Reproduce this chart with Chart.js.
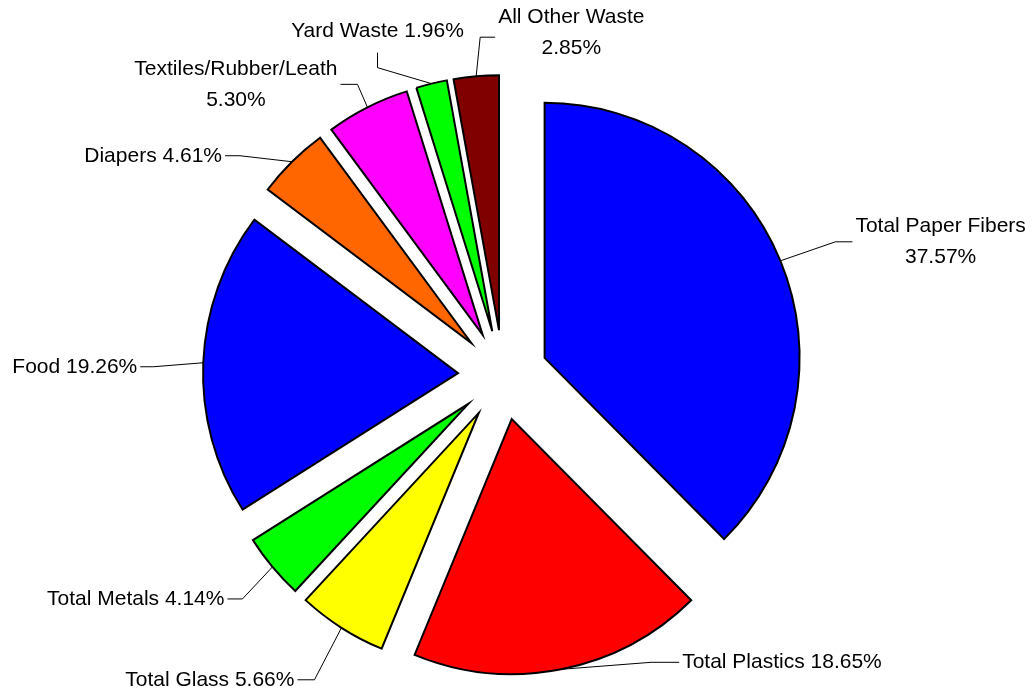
<!DOCTYPE html>
<html>
<head>
<meta charset="utf-8">
<script src="https://cdn.jsdelivr.net/npm/chart.js@4"></script>
<style>
  body { margin: 0; background: #ffffff; }
  #wrap { width: 1034px; height: 692px; }
</style>
</head>
<body>
<div id="wrap"><canvas id="chart_waste"></canvas></div>
<script>
const categories = ["Total Paper Fibers", "Total Plastics", "Total Glass", "Total Metals", "Food", "Diapers", "Textiles/Rubber/Leath", "Yard Waste", "All Other Waste"];
const percentages = [37.57, 18.65, 5.66, 4.14, 19.26, 4.61, 5.30, 1.96, 2.85];
const colors = ["#0000FF", "#FF0000", "#FFFF00", "#00FF00", "#0000FF", "#FF6600", "#FF00FF", "#00FF00", "#800000"];

// leader line: arc point -> elbow -> tail, text sits after the tail
const labelLayout = [
  { elbow: [55, -19], tail: [17, 0], side: "right", wrap: true },
  { elbow: [90, -7], tail: [28, 0], side: "right" },
  { elbow: [-27, 52], tail: [-17, 0], side: "left" },
  { elbow: [-30, 32], tail: [-15, 0], side: "left" },
  { elbow: [-50, 4], tail: [-13, 0], side: "left" },
  { elbow: [-52, -6], tail: [-15, 0], side: "left" },
  { elbow: [-10, -23], tail: [-17, 0], side: "left", wrap: true },
  { elbow: [-54, -16], tail: [0, -15], side: "above" },
  { elbow: [4, -39], tail: [15, 0], side: "right", wrap: true, dy: -4 },
];

const RADIUS = 255;
const EXPLODE = 45;

function arcFix(arc) {
  return 1 - Math.sin(Math.min(Math.PI, arc.circumference));
}

// chart.js pushes a pie slice out by offset/4, but also grows its radius by offset/4 * fix
// and trims offset/PI off its arc length; undo both so every slice keeps radius and angle
const evenExplode = {
  id: "evenExplode",
  afterDatasetsUpdate(chart) {
    chart.getDatasetMeta(0).data.forEach((arc) => {
      const grow = (arc.options.offset / 4) * arcFix(arc);
      arc.outerRadius = RADIUS - grow;
      const widen = grow / (2 * Math.PI * RADIUS);
      arc.startAngle -= widen;
      arc.endAngle += widen;
    });
  },
};

const leaderLabels = {
  id: "leaderLabels",
  afterDatasetsDraw(chart) {
    const ctx = chart.ctx;
    const meta = chart.getDatasetMeta(0);
    ctx.save();
    ctx.font = '21px "Liberation Sans", Arial, sans-serif';
    ctx.fillStyle = "#000000";
    ctx.strokeStyle = "#000000";
    ctx.lineWidth = 1;
    meta.data.forEach((arc, i) => {
      const mid = (arc.startAngle + arc.endAngle) / 2;
      const dist = (arc.options.offset / 4) * (1 + arcFix(arc)) + arc.outerRadius;
      const px = arc.x + Math.cos(mid) * dist;
      const py = arc.y + Math.sin(mid) * dist;

      const r = labelLayout[i];
      const ex = px + r.elbow[0], ey = py + r.elbow[1];
      const tx = ex + r.tail[0], ty = ey + r.tail[1];
      ctx.beginPath();
      ctx.moveTo(px, py);
      ctx.lineTo(ex, ey);
      ctx.lineTo(tx, ty);
      ctx.stroke();

      const value = percentages[i].toFixed(2) + "%";
      const lines = r.wrap ? [categories[i], value] : [categories[i] + " " + value];
      const w = Math.max(...lines.map((l) => ctx.measureText(l).width));
      let cx, cy;
      if (r.side === "right") { cx = tx + 3 + w / 2; cy = ty; }
      else if (r.side === "left") { cx = tx - 3 - w / 2; cy = ty; }
      else { cx = tx; cy = ty - 21; }
      cy += r.dy || 0;
      ctx.textAlign = "center";
      ctx.textBaseline = "middle";
      lines.forEach((l, k) => {
        ctx.fillText(l, cx, cy + (k - (lines.length - 1) / 2) * 31);
      });
    });
    ctx.restore();
  },
};

new Chart(document.getElementById("chart_waste"), {
  type: "pie",
  data: {
    labels: categories,
    datasets: [
      {
        data: percentages,
        backgroundColor: colors,
        borderColor: "#000000",
        borderWidth: 2,
        borderJoinStyle: "miter",
        offset: EXPLODE * 4,
        hoverOffset: 0,
      },
    ],
  },
  options: {
    responsive: true,
    maintainAspectRatio: false,
    animation: false,
    events: [],
    radius: RADIUS,
    layout: {
      padding: { left: 0, right: 28, top: 58, bottom: 0 },
    },
    plugins: {
      legend: { display: false },
      tooltip: { enabled: false },
    },
  },
  plugins: [evenExplode, leaderLabels],
});
</script>
</body>
</html>
